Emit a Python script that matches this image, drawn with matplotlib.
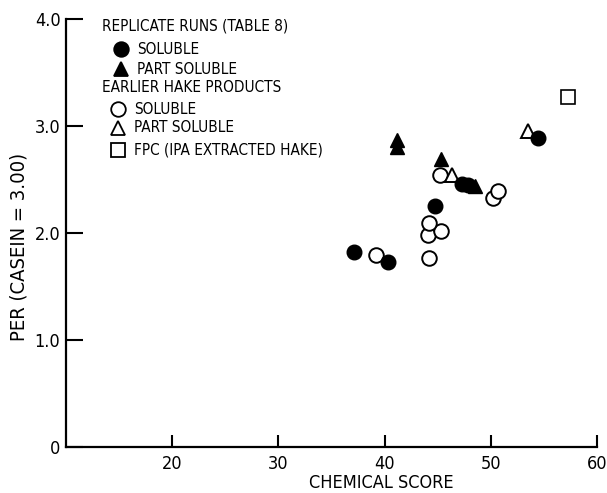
import matplotlib.pyplot as plt
from matplotlib.lines import Line2D

plt.rcParams['font.family'] = ['DejaVu Sans']
plt.rcParams['font.stretch'] = 'condensed'

# replicate runs (table 8)
rep_sol_x = [37.1, 40.3, 44.7, 47.3, 47.9, 54.4]
rep_sol_y = [1.82, 1.73, 2.25, 2.46, 2.45, 2.89]
rep_part_x = [41.2, 41.2, 45.3, 48.5]
rep_part_y = [2.87, 2.80, 2.69, 2.44]

# earlier hake products
hake_sol_x = [39.2, 44.2, 44.1, 45.3, 44.2, 45.2, 50.2, 50.7]
hake_sol_y = [1.79, 1.77, 1.98, 2.02, 2.09, 2.54, 2.33, 2.39]
hake_part_x = [46.3, 53.5]
hake_part_y = [2.54, 2.95]
fpc_x = [57.3]
fpc_y = [3.27]

x_ticks = [20, 30, 40, 50, 60]
y_ticks = [0, 1, 2, 3, 4]
y_tick_labels = ['0', '1.0', '2.0', '3.0', '4.0']

fig = plt.figure(figsize=(6.07, 4.93), dpi=100)
ax = fig.add_axes([66 / 607, 46 / 493, 531 / 607, 428 / 493])

ms = 10.5
ax.plot(hake_sol_x, hake_sol_y, 'o', ms=ms, mfc='white', mec='black', mew=1.4, ls='none')
ax.plot(hake_part_x, hake_part_y, '^', ms=ms, mfc='white', mec='black', mew=1.4, ls='none')
ax.plot(fpc_x, fpc_y, 's', ms=ms, mfc='white', mec='black', mew=1.2, ls='none')
ax.plot(rep_sol_x, rep_sol_y, 'o', ms=ms, color='black', ls='none')
ax.plot(rep_part_x, rep_part_y, '^', ms=ms, color='black', ls='none')

ax.set_xlim(10, 60)
ax.set_ylim(0, 4)
ax.set_xticks(x_ticks)
ax.set_yticks(y_ticks)
ax.set_yticklabels(y_tick_labels)
ax.spines['top'].set_visible(False)
ax.spines['right'].set_visible(False)
for s in ['left', 'bottom']:
    ax.spines[s].set_linewidth(1.6)
ax.tick_params(axis='y', direction='in', length=12, width=1.5, labelsize=13, pad=4)
ax.tick_params(axis='x', direction='in', length=9, width=1.5, labelsize=13, pad=6)

fig.text(381 / 607, 1 - 483 / 493, 'CHEMICAL SCORE', ha='center', va='center', fontsize=13)
fig.text(19 / 607, 1 - 247 / 493, 'PER (CASEIN = 3.00)', ha='center', va='center',
         rotation=90, fontsize=14.5)


# legend drawn by hand, positions in pixels of the figure
def px(x, y):
    return (x - 66) / 531, (447 - y) / 428


fs = 11
ax.text(*px(102, 26), 'REPLICATE RUNS (TABLE 8)', transform=ax.transAxes, va='center', fontsize=fs)
ax.text(*px(102, 87), 'EARLIER HAKE PRODUCTS', transform=ax.transAxes, va='center', fontsize=fs)
entries = [
    (121, 49, 'o', 'black', 'SOLUBLE'),
    (121, 69, '^', 'black', 'PART SOLUBLE'),
    (118, 109, 'o', 'white', 'SOLUBLE'),
    (118, 128, '^', 'white', 'PART SOLUBLE'),
    (118, 150, 's', 'white', 'FPC (IPA EXTRACTED HAKE)'),
]
for x, y, m, fc, label in entries:
    mx, my = px(x, y)
    ax.add_line(Line2D([mx], [my], marker=m, ms=ms, mfc=fc, mec='black', mew=1.3,
                       ls='none', transform=ax.transAxes, clip_on=False))
    ax.text(*px(x + 16, y), label, transform=ax.transAxes, va='center', fontsize=fs)

fig.savefig('out.png', dpi=100)
